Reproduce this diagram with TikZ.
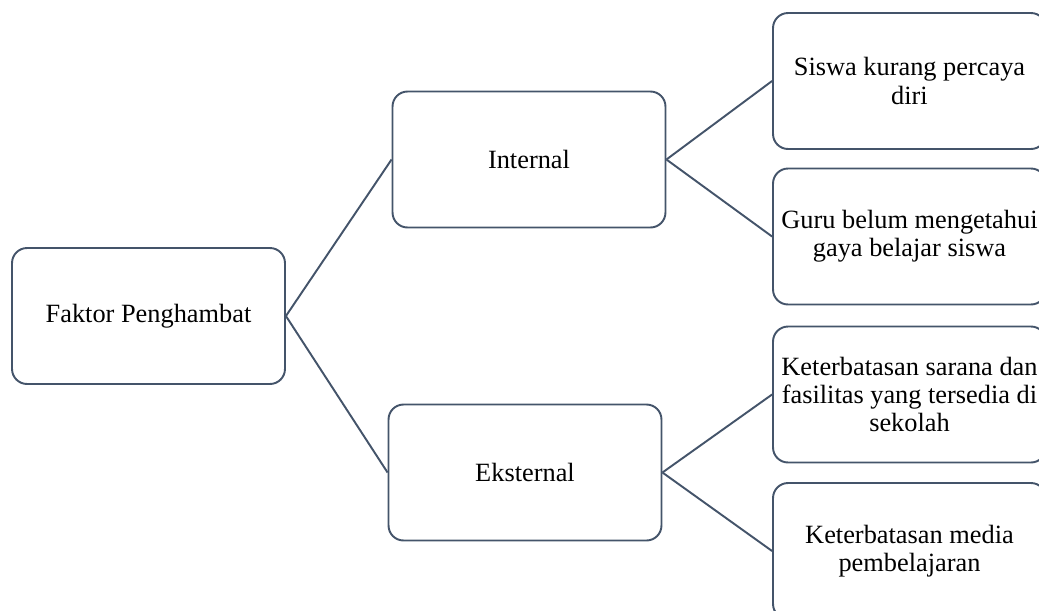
\documentclass[tikz,border=0pt]{standalone}
\usepackage{fontspec}
\setmainfont{Liberation Serif}
\usepackage{tikz}
\definecolor{boxline}{HTML}{44546A}

\begin{document}
\begin{tikzpicture}[x=0.02cm,y=-0.02cm,
		faktorbox/.style={draw=boxline,line width=1.1pt,rounded corners=0.3cm,minimum width=5.46cm,minimum height=2.72cm,align=center,inner sep=1pt,font=\fontsize{15}{16}\selectfont},
		link/.style={draw=boxline,line width=1.1pt}]
		\useasboundingbox (0,0) rectangle (1039,610);
		\clip (0,0) rectangle (1039,610);
		\node[faktorbox] (faktor) at (148.5,316) {Faktor Penghambat};
		\node[faktorbox] (internal) at (529,159.5) {Internal};
		\node[faktorbox] (eksternal) at (525,472.5) {Eksternal};
		\node[faktorbox] (percaya) at (909.5,81) {Siswa kurang percaya\\diri};
		\node[faktorbox] (gaya) at (909.5,236.5) {Guru belum mengetahui\\gaya belajar siswa};
		\node[faktorbox] (sarana) at (909.5,394.5) {Keterbatasan sarana dan\\fasilitas yang tersedia di\\sekolah};
		\node[faktorbox] (media) at (909.5,551) {Keterbatasan media\\pembelajaran};
		\draw[link] (faktor.east) -- (internal.west);
		\draw[link] (faktor.east) -- (eksternal.west);
		\draw[link] (internal.east) -- (percaya.west);
		\draw[link] (internal.east) -- (gaya.west);
		\draw[link] (eksternal.east) -- (sarana.west);
		\draw[link] (eksternal.east) -- (media.west);
		\end{tikzpicture}
\end{document}
